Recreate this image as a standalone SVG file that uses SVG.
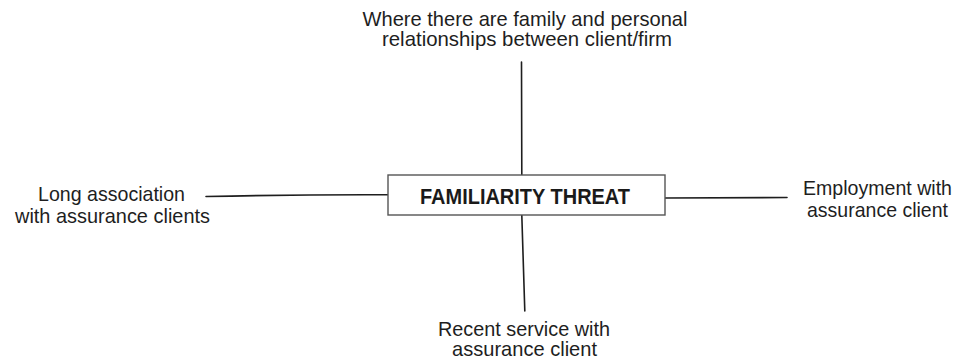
<svg xmlns="http://www.w3.org/2000/svg" width="960" height="361" viewBox="0 0 960 361">
<style>
.lbl{font-family:"Liberation Sans",Arial,sans-serif;font-size:21px;fill:#1e1e1e;text-anchor:middle}
.ttl{font-family:"Liberation Sans",Arial,sans-serif;font-size:22px;font-weight:bold;fill:#1a1a1a;text-anchor:middle}
.con{fill:none;stroke:#1e1e1e;stroke-width:1.6;stroke-linecap:round}
.box{fill:#ffffff;stroke:#555555;stroke-width:1.4}
</style>
<rect width="960" height="361" fill="#ffffff"/>
<g id="connectors">
<path class="con" d="M521.5,62 L521.8,175"/>
<path class="con" d="M521.8,215 L524.8,311"/>
<path class="con" d="M206,196.5 Q300,194.5 388,194.8"/>
<path class="con" d="M665,198 L787,197.5"/>
</g>
<g id="center">
<rect class="box" x="388" y="175" width="277" height="40"/>
<text class="ttl" x="525" y="204" textLength="210" lengthAdjust="spacingAndGlyphs">FAMILIARITY THREAT</text>
</g>
<g id="top">
<text class="lbl" x="525" y="26" textLength="325" lengthAdjust="spacingAndGlyphs">Where there are family and personal</text>
<text class="lbl" x="527" y="46" textLength="290" lengthAdjust="spacingAndGlyphs">relationships between client/firm</text>
</g>
<g id="left">
<text class="lbl" x="111.5" y="201" textLength="147" lengthAdjust="spacingAndGlyphs">Long association</text>
<text class="lbl" x="112.5" y="223" textLength="195" lengthAdjust="spacingAndGlyphs">with assurance clients</text>
</g>
<g id="right">
<text class="lbl" x="877.5" y="195" textLength="149" lengthAdjust="spacingAndGlyphs">Employment with</text>
<text class="lbl" x="877.5" y="217" textLength="141" lengthAdjust="spacingAndGlyphs">assurance client</text>
</g>
<g id="bottom">
<text class="lbl" x="524" y="336" textLength="172" lengthAdjust="spacingAndGlyphs">Recent service with</text>
<text class="lbl" x="524.5" y="356" textLength="145" lengthAdjust="spacingAndGlyphs">assurance client</text>
</g>
</svg>
